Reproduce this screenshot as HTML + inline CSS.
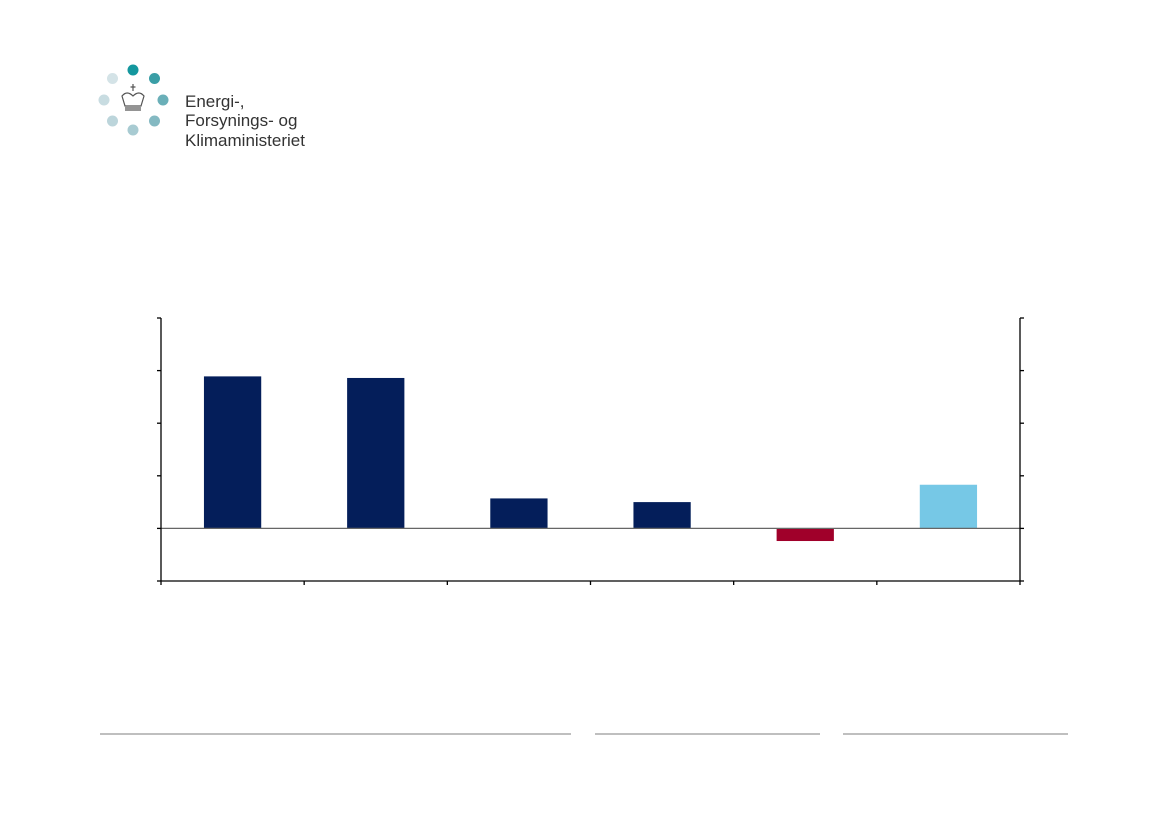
<!DOCTYPE html>
<html><head><meta charset="utf-8"><style>
body{margin:0;background:#fff;}
svg{display:block;font-family:"Liberation Sans",sans-serif;}
</style></head><body>
<svg width="1169" height="826" viewBox="0 0 1169 826">
<g>
<circle cx="133" cy="70" r="5.5" fill="#14979e"/>
<circle cx="154.5" cy="78.5" r="5.5" fill="#3a9ea6"/>
<circle cx="163" cy="100" r="5.5" fill="#6aafb8"/>
<circle cx="154.5" cy="121" r="5.5" fill="#84b9c2"/>
<circle cx="133" cy="130" r="5.5" fill="#a8cbd2"/>
<circle cx="112.5" cy="121" r="5.5" fill="#bcd5db"/>
<circle cx="104" cy="100" r="5.5" fill="#c8dce1"/>
<circle cx="112.5" cy="78.5" r="5.5" fill="#d4e3e7"/>
<g fill="none" stroke="#555" stroke-width="1.2">
<path d="M122 96 Q127 90 133 96 Q139 90 144 96 L141 106 L125 106 Z"/>
<path d="M125 108 L141 108 M125 110 L141 110"/>
<path d="M133 84 L133 91 M130.5 87 L135.5 87"/>
</g>
<text x="185" y="107" font-size="17" fill="#333">Energi-,</text>
<text x="185" y="126" font-size="17" fill="#333">Forsynings- og</text>
<text x="185" y="146" font-size="17" fill="#333">Klimaministeriet</text>
</g>
<g id="chart"></g>
<g stroke="#999" stroke-width="1.3">
<line x1="100" y1="734" x2="571" y2="734"/>
<line x1="595" y1="734" x2="820" y2="734"/>
<line x1="843" y1="734" x2="1068" y2="734"/>
</g>
</svg>
<script>
const categories = ["c1","c2","c3","c4","c5","c6"];
const values = [2.89, 2.86, 0.57, 0.50, -0.24, 0.83];
const colors = ["#041e5a","#041e5a","#041e5a","#041e5a","#a0002a","#76c8e6"];
const yTicks = [-1, 0, 1, 2, 3, 4];
const NS = "http://www.w3.org/2000/svg";
const g = document.getElementById("chart");
const L = 161, R = 1020, T = 318, B = 581, yMin = -1, yMax = 4;
const y = v => B - (v - yMin) / (yMax - yMin) * (B - T);
const band = (R - L) / categories.length;
const x = i => L + band * i;
function mk(tag, attrs){const e=document.createElementNS(NS,tag);for(const k in attrs)e.setAttribute(k,attrs[k]);g.appendChild(e);return e;}
values.forEach((v,i)=>{
  const w = band*0.4;
  const r = mk("rect",{x:x(i)+(band-w)/2,y:Math.min(y(v),y(0)),width:w,height:Math.abs(y(v)-y(0)),fill:colors[i]});
  
  
});
const z = mk("line",{x1:L,x2:R,y1:y(0),y2:y(0),stroke:"#666","stroke-width":1.3});


const la = mk("line",{x1:L,x2:L,y1:T,y2:B,stroke:"#000","stroke-width":1.3});


const ra = mk("line",{x1:R,x2:R,y1:T,y2:B,stroke:"#000","stroke-width":1.3});


const xa = mk("line",{x1:L,x2:R,y1:B,y2:B,stroke:"#000","stroke-width":1.3});


yTicks.forEach(t=>{
  const a = mk("line",{x1:L-4,x2:L,y1:y(t),y2:y(t),stroke:"#000","stroke-width":1.3});
  
  
  const b = mk("line",{x1:R,x2:R+4,y1:y(t),y2:y(t),stroke:"#000","stroke-width":1.3});
  
  
});
for(let i=0;i<=categories.length;i++){
  const tk = mk("line",{x1:x(i),x2:x(i),y1:B,y2:B+4,stroke:"#000","stroke-width":1.3});
  
  
}
</script>
</body></html>
